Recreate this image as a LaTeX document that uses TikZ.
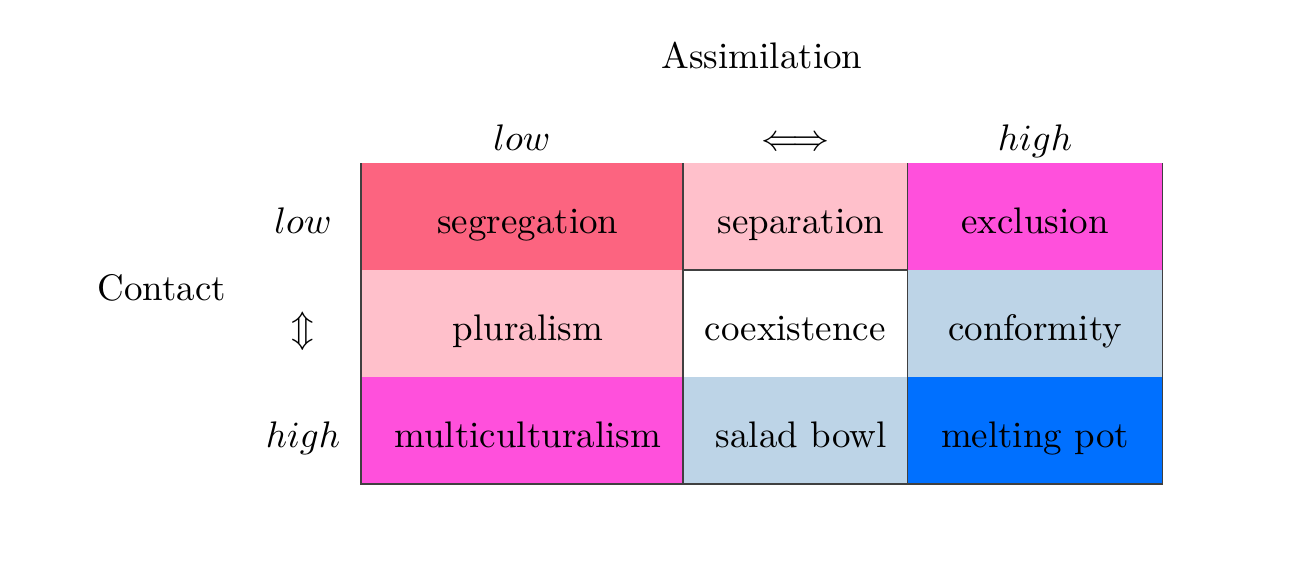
\documentclass[tikz,border=0pt]{standalone}
\usetikzlibrary{positioning}
\usepackage{amsmath}
\definecolor{segred}{HTML}{FC6480}
\definecolor{softpink}{HTML}{FFC0CB}
\definecolor{hotmagenta}{HTML}{FF50DC}
\definecolor{paleblue}{HTML}{BDD4E7}
\definecolor{deepblue}{HTML}{0070FF}

\begin{document}
\begin{tikzpicture}[x=0.0095cm, y=-0.0095cm,
    cell/.style={minimum height=1.0165cm, inner sep=0pt, outer sep=0pt, text height=9.4pt, text depth=0pt},
    nudged/.style={execute at begin node={\hspace*{3.2pt}}},
    rowlab/.style={text height=9.4pt, text depth=0pt, anchor=center}]

    \useasboundingbox (0,0) rectangle (1316,572);

    \node(C11)[cell, nudged, fill=segred, minimum width=3.059cm, anchor=north west] at (361,163){segregation};
    \node(C12)[cell, nudged, fill=softpink, minimum width=2.1375cm, right=0pt of C11]{separation};
    \node(C13)[cell, fill=hotmagenta, minimum width=2.4225cm, right=0pt of C12]{exclusion};

    \node(C21)[cell, nudged, fill=softpink, minimum width=3.059cm, below=0pt of C11]{pluralism};
    \node(C22)[cell, fill=white, minimum width=2.1375cm, right=0pt of C21]{coexistence};
    \node(C23)[cell, fill=paleblue, minimum width=2.4225cm, right=0pt of C22]{conformity};

    \node(C31)[cell, nudged, fill=hotmagenta, minimum width=3.059cm, below=0pt of C21]{multiculturalism};
    \node(C32)[cell, nudged, fill=paleblue, minimum width=2.1375cm, right=0pt of C31]{salad bowl};
    \node(C33)[cell, fill=deepblue, minimum width=2.4225cm, right=0pt of C32]{melting pot};

    % grid lines
    \draw[black!75, line width=0.4pt] (C11.north west) -- (C31.south west) -- (C33.south east) -- (C13.north east);
    \draw[black!75, line width=0.4pt] (C12.north west) -- (C32.south west);
    \draw[black!75, line width=0.4pt] (C12.north east) -- (C32.south east);
    \draw[black!75, line width=0.4pt] (C22.north west) -- (C22.north east);

    % column labels
    \node(H1)[above=3.5pt of C11.north, anchor=base]{$low$};
    \node(H2)[above=3.5pt of C12.north, anchor=base]{$\Longleftrightarrow$};
    \node(H3)[above=3.5pt of C13.north, anchor=base]{$high$};
    \node(T1)[anchor=base] at (762,68){Assimilation};

    % row labels
    \node(R1)[rowlab, left=0.551cm of C11.west, anchor=center]{$low$};
    \node(R2)[rowlab, left=0.551cm of C21.west, anchor=center]{$\Updownarrow$};
    \node(R3)[rowlab, left=0.551cm of C31.west, anchor=center]{$high$};
    \node(T2)[anchor=base] at (162,300){Contact};

\end{tikzpicture}
\end{document}
